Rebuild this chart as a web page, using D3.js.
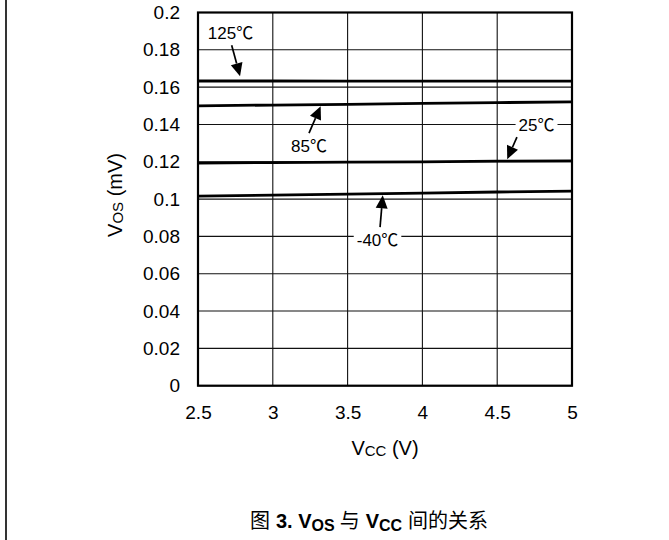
<!DOCTYPE html>
<html>
<head>
<meta charset="utf-8">
<script src="https://cdn.jsdelivr.net/npm/d3@7"></script>
<style>
  html, body { margin: 0; padding: 0; background: #fff; }
  svg { display: block; }
  text { font-family: "Liberation Sans", Arial, "Noto Sans CJK SC", sans-serif; fill: #000; }
</style>
</head>
<body>
<svg id="chart" width="669" height="540"></svg>
<script>
// ---- data ----
const vcc = [2.5, 3, 3.5, 4, 4.5, 5];
const seriesNames = ["125℃", "85℃", "25℃", "-40℃"];
const vos125 = [0.1633, 0.1633, 0.1632, 0.1632, 0.1632, 0.1632];
const vos85  = [0.1500, 0.1504, 0.1508, 0.1513, 0.1517, 0.1521];
const vos25  = [0.1193, 0.1196, 0.1198, 0.1200, 0.1203, 0.1205];
const vosM40 = [0.1016, 0.1021, 0.1027, 0.1032, 0.1038, 0.1043];
const xTicks = [2.5, 3, 3.5, 4, 4.5, 5];
const yTicks = [0, 0.02, 0.04, 0.06, 0.08, 0.1, 0.12, 0.14, 0.16, 0.18, 0.2];
const xTickLabels = ["2.5", "3", "3.5", "4", "4.5", "5"];
const yTickLabels = ["0", "0.02", "0.04", "0.06", "0.08", "0.1", "0.12", "0.14", "0.16", "0.18", "0.2"];
// annotations (data units)
const annTextX = [2.717, 3.242, 4.763, 3.700];
const annTextY = [0.1889, 0.1284, 0.1399, 0.0783];
const annFromX = [2.725, 3.242, 4.632, 3.717];
const annFromY = [0.1825, 0.1354, 0.1332, 0.0850];
const annToX   = [2.781, 3.320, 4.567, 3.735];
const annToY   = [0.1659, 0.1498, 0.1214, 0.1021];

// ---- layout ----
const svg = d3.select("#chart");
const W = 669, H = 540;
const plot = { left: 198, right: 572, top: 12.5, bottom: 385.7 };

const x = d3.scaleLinear().domain([2.5, 5]).range([plot.left, plot.right]);
const y = d3.scaleLinear().domain([0, 0.2]).range([plot.bottom, plot.top]);

// outer left frame line
svg.append("line")
  .attr("x1", 6).attr("x2", 6).attr("y1", 0).attr("y2", H)
  .attr("stroke", "#000").attr("stroke-width", 1.6);

// gridlines
const grid = svg.append("g");
grid.selectAll("line.h").data(yTicks).join("line")
  .attr("x1", plot.left).attr("x2", plot.right)
  .attr("y1", d => y(d)).attr("y2", d => y(d))
  .attr("stroke", "#111").attr("stroke-width", 1.1);
grid.selectAll("line.v").data(xTicks).join("line")
  .attr("y1", plot.top).attr("y2", plot.bottom)
  .attr("x1", d => x(d)).attr("x2", d => x(d))
  .attr("stroke", "#111").attr("stroke-width", 1.1);

// axes (labels only, via d3 axes)
const yAxis = d3.axisLeft(y).tickValues(yTicks)
  .tickFormat((d, i) => yTickLabels[i]).tickSize(0).tickPadding(18);
const gy = svg.append("g").attr("transform", `translate(${plot.left},0)`).call(yAxis);
gy.select(".domain").remove();
gy.selectAll("text").attr("font-size", 19);

const xAxis = d3.axisBottom(x).tickValues(xTicks)
  .tickFormat((d, i) => xTickLabels[i]).tickSize(0).tickPadding(20);
const gx = svg.append("g").attr("transform", `translate(0,${plot.bottom})`).call(xAxis);
gx.select(".domain").remove();
gx.selectAll("text").attr("font-size", 19);

// series lines
const allSeries = [vos125, vos85, vos25, vosM40];
const line = d3.line().x((d, i) => x(vcc[i])).y(d => y(d));
svg.append("g").selectAll("path").data(allSeries).join("path")
  .attr("d", d => line(d))
  .attr("fill", "none").attr("stroke", "#000").attr("stroke-width", 2.8);

// plot border
svg.append("rect")
  .attr("x", plot.left).attr("y", plot.top)
  .attr("width", plot.right - plot.left).attr("height", plot.bottom - plot.top)
  .attr("fill", "none").attr("stroke", "#000").attr("stroke-width", 2.2);

// annotations
const ann = svg.append("g");
seriesNames.forEach((name, i) => {
  const x0 = x(annFromX[i]), y0 = y(annFromY[i]);
  const x1 = x(annToX[i]), y1 = y(annToY[i]);
  const dx = x1 - x0, dy = y1 - y0, len = Math.hypot(dx, dy);
  const ux = dx / len, uy = dy / len;
  const headL = 13, headW = 6;
  const bx = x1 - ux * headL, by = y1 - uy * headL;
  ann.append("line")
    .attr("x1", x0).attr("y1", y0).attr("x2", bx).attr("y2", by)
    .attr("stroke", "#000").attr("stroke-width", 1.7);
  ann.append("path")
    .attr("d", `M${x1},${y1}L${bx - uy * headW},${by + ux * headW}L${bx + uy * headW},${by - ux * headW}Z`)
    .attr("fill", "#000");
  const t = ann.append("text")
    .attr("x", x(annTextX[i])).attr("y", y(annTextY[i]))
    .attr("dy", "0.36em")
    .attr("text-anchor", "middle")
    .attr("font-size", 17)
    .text(name);
  const bb = t.node().getBBox();
  ann.insert("rect", () => t.node())
    .attr("x", bb.x - 3).attr("y", bb.y + 2)
    .attr("width", bb.width + 6).attr("height", bb.height - 4)
    .attr("fill", "#fff");
});

// y axis title: V_OS (mV)
const yt = svg.append("text")
  .attr("transform", `translate(122,195) rotate(-90)`)
  .attr("text-anchor", "middle")
  .attr("font-size", 20);
yt.append("tspan").text("V");
yt.append("tspan").attr("font-size", 15).attr("dy", 1).text("OS");
yt.append("tspan").attr("dy", -1).text(" (mV)");

// x axis title: V_CC (V)
const xt = svg.append("text")
  .attr("x", 385).attr("y", 455)
  .attr("text-anchor", "middle")
  .attr("font-size", 20);
xt.append("tspan").text("V");
xt.append("tspan").attr("font-size", 15).attr("dy", 1).text("CC");
xt.append("tspan").attr("dy", -1).text(" (V)");

// caption
const cap = svg.append("text")
  .attr("x", 369).attr("y", 528)
  .attr("text-anchor", "middle")
  .attr("font-size", 20);
cap.append("tspan").style("font-family", "'Noto Sans CJK SC'").text("图");
cap.append("tspan").attr("dx", 6).attr("font-weight", "bold").text("3. V");
cap.append("tspan").attr("font-weight", "bold").attr("font-size", 16).attr("dy", 3).text("OS");
cap.append("tspan").attr("dy", -3).attr("dx", 5).style("font-family", "'Noto Sans CJK SC'").text("与");
cap.append("tspan").attr("dx", 6).attr("font-weight", "bold").text("V");
cap.append("tspan").attr("font-weight", "bold").attr("font-size", 16).attr("dy", 3).text("CC");
cap.append("tspan").attr("dy", -3).attr("dx", 6).style("font-family", "'Noto Sans CJK SC'").text("间的关系");
</script>
</body>
</html>
